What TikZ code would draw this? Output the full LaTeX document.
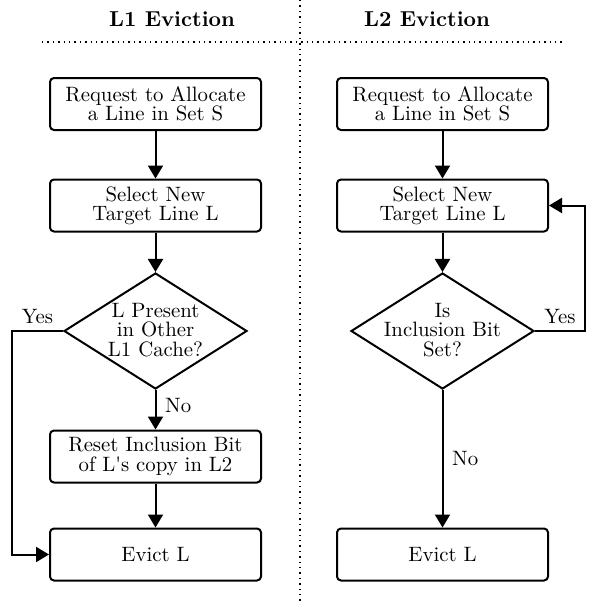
\documentclass[tikz,border=0pt]{standalone}
\usetikzlibrary{arrows.meta,shapes.geometric}

\begin{document}
\begin{tikzpicture}[x=0.5pt,y=-0.5pt,
  every node/.append style={font=\fontsize{10.4}{9.6}\selectfont},
  head/.style={font=\fontsize{10.8}{12}\selectfont\bfseries},
  box/.style={draw,line width=1pt,rounded corners=2pt,align=center,
    minimum width=105.5pt,minimum height=26pt,inner sep=2pt},
  test/.style={draw,line width=1pt,diamond,aspect=1.58,
    minimum width=91.5pt,minimum height=58pt,inner sep=0pt},
  testtext/.style={label={[align=center,yshift=0.5pt]center:#1}},
  flow/.style={line width=1pt,-{Triangle[length=6.5pt,width=7.5pt]}},
  sep/.style={line width=0.7pt,dotted}]
\useasboundingbox (0,0) rectangle (589,605);

% column titles and separators
\node[head] (h1) at (172,19) {L1 Eviction};
\node[head] (h2) at (427,19) {L2 Eviction};
\draw[sep] (300,0) -- (300,605);
\draw[sep] (42,42) -- (562,42);

% L1 side
\node[box] (a1) at (155.5,104) {Request to Allocate\\a Line in Set S};
\node[box] (s1) at (155.5,205.5) {Select New\\Target Line L};
\node[test,testtext={L Present\\in Other\\L1 Cache?}] (t1) at (155.5,331) {};
\node[box] (r1) at (155.5,456.5) {Reset Inclusion Bit\\of L\textquotesingle s copy in L2};
\node[box] (e1) at (155.5,554.5) {Evict L};

\draw[flow] (a1) -- (s1);
\draw[flow] (s1) -- (t1);
\draw[flow] (t1) -- node[right,pos=0.4,xshift=1pt] {No} (r1);
\draw[flow] (r1) -- (e1);
\coordinate (y1) at (12,331);
\draw[flow] (t1.west) -- node[above,pos=0.5] {Yes} (y1) |- (e1.west);

% L2 side
\node[box] (a2) at (442.5,104) {Request to Allocate\\a Line in Set S};
\node[box] (s2) at (442.5,205.5) {Select New\\Target Line L};
\node[test,testtext={Is\\Inclusion Bit\\Set?}] (t2) at (442.5,331) {};
\node[box] (e2) at (442.5,554.5) {Evict L};

\draw[flow] (a2) -- (s2);
\draw[flow] (s2) -- (t2);
\draw[flow] (t2) -- node[right,pos=0.5,xshift=1pt] {No} (e2);
\coordinate (y2) at (585,331);
\draw[flow] (t2.east) -- node[above,pos=0.5] {Yes} (y2) |- (s2.east);
\end{tikzpicture}
\end{document}
